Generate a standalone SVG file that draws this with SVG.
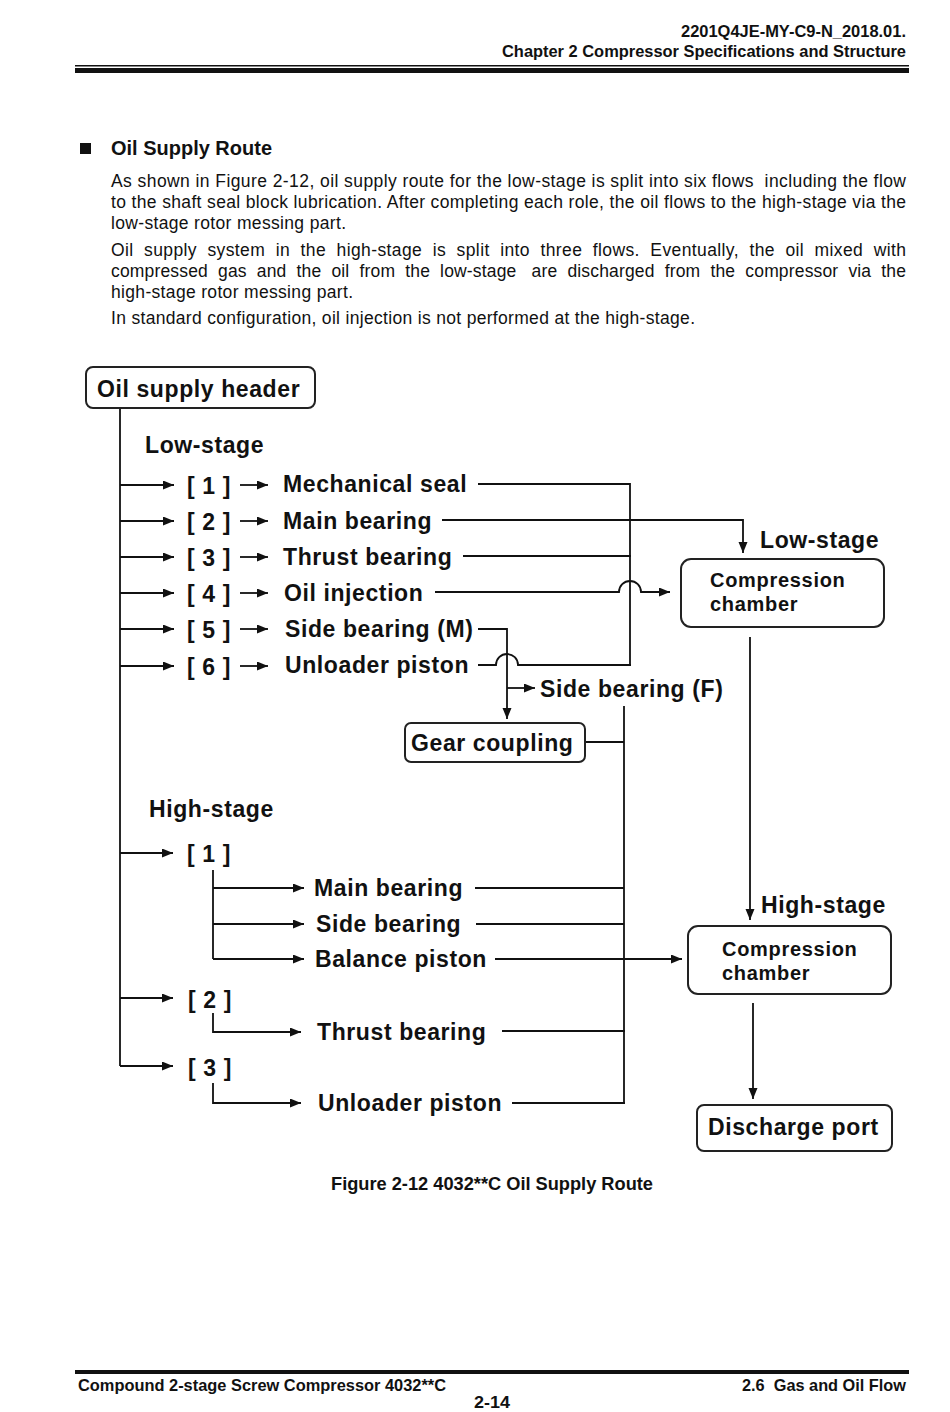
<svg xmlns="http://www.w3.org/2000/svg" width="950" height="1412" viewBox="0 0 950 1412">
<style>
.t{font-family:"Liberation Sans",Arial,sans-serif;fill:#111}
.hd{font-weight:bold;font-size:17px}
.p{font-size:17.5px}
.d{font-weight:bold;font-size:23px;letter-spacing:0.6px}
.c{font-weight:bold;font-size:20px;letter-spacing:0.7px}
.ln{fill:none;stroke:#111;stroke-width:1.8}
.ar{fill:none;stroke:#111;stroke-width:1.8;marker-end:url(#ah)}
.bx{fill:#fff;stroke:#222;stroke-width:2}
</style>
<defs>
<marker id="ah" markerUnits="userSpaceOnUse" markerWidth="12" markerHeight="10" refX="11" refY="4.5" orient="auto">
<path d="M0,0 L11,4.5 L0,9 z" fill="#111"/>
</marker>
</defs>
<rect width="950" height="1412" fill="#fff"/>

<g id="page-header">
<text class="t hd" x="906" y="37" text-anchor="end" textLength="225" lengthAdjust="spacingAndGlyphs">2201Q4JE-MY-C9-N_2018.01.</text>
<text class="t hd" x="906" y="57" text-anchor="end" textLength="404" lengthAdjust="spacingAndGlyphs">Chapter 2 Compressor Specifications and Structure</text>
<rect x="75" y="65" width="834" height="1.5" fill="#111"/>
<rect x="75" y="68" width="834" height="5" fill="#111"/>
</g>

<g id="intro">
<rect x="80" y="143" width="11" height="11" fill="#111"/>
<text class="t" x="111" y="155" font-weight="bold" font-size="19.5" textLength="161" lengthAdjust="spacingAndGlyphs">Oil Supply Route</text>
<text class="t p" x="111" y="187" textLength="795" xml:space="preserve">As shown in Figure 2-12, oil supply route for the low-stage is split into six flows  including the flow</text>
<text class="t p" x="111" y="208" textLength="795">to the shaft seal block lubrication. After completing each role, the oil flows to the high-stage via the</text>
<text class="t p" x="111" y="229" textLength="235">low-stage rotor messing part.</text>
<text class="t p" x="111" y="256" textLength="795" xml:space="preserve">Oil  supply  system  in  the  high-stage  is  split  into  three  flows.  Eventually,  the  oil  mixed  with</text>
<text class="t p" x="111" y="277" textLength="795" xml:space="preserve">compressed  gas  and  the  oil  from  the  low-stage   are  discharged  from  the  compressor  via  the</text>
<text class="t p" x="111" y="298" textLength="242">high-stage rotor messing part.</text>
<text class="t p" x="111" y="324" textLength="584">In standard configuration, oil injection is not performed at the high-stage.</text>
</g>

<g id="connectors">
<path class="ln" d="M120,408 V1066"/>
<path class="ar" d="M120,485 H174"/>
<path class="ar" d="M120,521 H174"/>
<path class="ar" d="M120,557 H174"/>
<path class="ar" d="M120,593 H174"/>
<path class="ar" d="M120,629 H174"/>
<path class="ar" d="M120,666 H174"/>
<path class="ar" d="M240,485 H268"/>
<path class="ar" d="M240,521 H268"/>
<path class="ar" d="M240,557 H268"/>
<path class="ar" d="M240,593 H268"/>
<path class="ar" d="M240,629 H268"/>
<path class="ar" d="M240,666 H268"/>
<path class="ln" d="M478,484 H630 V665"/>
<path class="ar" d="M442,520 H743 V553"/>
<path class="ln" d="M463,556 H631"/>
<path class="ar" d="M435,592 H619 A11,11 0 0 1 641,592 H670"/>
<path class="ar" d="M478,629 H507 V719"/>
<path class="ar" d="M507,688 H535"/>
<path class="ln" d="M478,665 H496 A11,11 0 0 1 518,665 H631"/>
<path class="ln" d="M585,742 H624"/>
<path class="ln" d="M624,706 V1103"/>
<path class="ar" d="M750,637 V920"/>
<path class="ar" d="M120,853 H173"/>
<path class="ar" d="M120,998 H173"/>
<path class="ar" d="M120,1066 H173"/>
<path class="ln" d="M213,870 V959"/>
<path class="ar" d="M213,888 H304"/>
<path class="ar" d="M213,924 H304"/>
<path class="ar" d="M213,959 H304"/>
<path class="ar" d="M213,1013 V1032 H301"/>
<path class="ar" d="M213,1083 V1103 H301"/>
<path class="ln" d="M475,888 H624"/>
<path class="ln" d="M476,924 H624"/>
<path class="ar" d="M495,959 H682"/>
<path class="ln" d="M502,1031 H625"/>
<path class="ln" d="M512,1103 H625"/>
<path class="ar" d="M753,1003 V1099"/>
</g>

<g id="oil-supply-header">
<rect class="bx" x="86" y="367" width="229" height="41" rx="7"/>
<text class="t d" x="97" y="397">Oil supply header</text>
</g>

<g id="low-stage-label"><text class="t d" x="145" y="453">Low-stage</text></g>

<g id="ls1"><text class="t d" x="187" y="494">[ 1 ]</text><text class="t d" x="283" y="492">Mechanical seal</text></g>
<g id="ls2"><text class="t d" x="187" y="530">[ 2 ]</text><text class="t d" x="283" y="529">Main bearing</text></g>
<g id="ls3"><text class="t d" x="187" y="566">[ 3 ]</text><text class="t d" x="283" y="565">Thrust bearing</text></g>
<g id="ls4"><text class="t d" x="187" y="602">[ 4 ]</text><text class="t d" x="284" y="601">Oil injection</text></g>
<g id="ls5"><text class="t d" x="187" y="638">[ 5 ]</text><text class="t d" x="285" y="637">Side bearing (M)</text></g>
<g id="ls6"><text class="t d" x="187" y="675">[ 6 ]</text><text class="t d" x="285" y="673">Unloader piston</text></g>

<g id="side-bearing-f"><text class="t d" x="540" y="697">Side bearing (F)</text></g>

<g id="gear-coupling">
<rect class="bx" x="405" y="723" width="180" height="39" rx="6"/>
<text class="t d" x="411" y="751">Gear coupling</text>
</g>

<g id="low-stage-chamber">
<text class="t d" x="760" y="548">Low-stage</text>
<rect class="bx" x="681" y="559" width="203" height="68" rx="10"/>
<text class="t c" x="710" y="587">Compression</text>
<text class="t c" x="710" y="611">chamber</text>
</g>

<g id="high-stage-label"><text class="t d" x="149" y="817">High-stage</text></g>

<g id="hs1"><text class="t d" x="187" y="862">[ 1 ]</text></g>
<g id="hs1a"><text class="t d" x="314" y="896">Main bearing</text></g>
<g id="hs1b"><text class="t d" x="316" y="932">Side bearing</text></g>
<g id="hs1c"><text class="t d" x="315" y="967">Balance piston</text></g>
<g id="hs2"><text class="t d" x="188" y="1008">[ 2 ]</text><text class="t d" x="317" y="1040">Thrust bearing</text></g>
<g id="hs3"><text class="t d" x="188" y="1076">[ 3 ]</text><text class="t d" x="318" y="1111">Unloader piston</text></g>

<g id="high-stage-chamber">
<text class="t d" x="761" y="913">High-stage</text>
<rect class="bx" x="688" y="926" width="203" height="68" rx="10"/>
<text class="t c" x="722" y="956">Compression</text>
<text class="t c" x="722" y="980">chamber</text>
</g>

<g id="discharge-port">
<rect class="bx" x="697" y="1105" width="195" height="46" rx="7"/>
<text class="t d" x="708" y="1135">Discharge port</text>
</g>

<g id="caption">
<text class="t" x="492" y="1190" text-anchor="middle" font-weight="bold" font-size="18" textLength="322" lengthAdjust="spacingAndGlyphs">Figure 2-12 4032**C Oil Supply Route</text>
</g>

<g id="page-footer">
<rect x="75" y="1370" width="834" height="4" fill="#111"/>
<text class="t hd" x="78" y="1391" textLength="368" lengthAdjust="spacingAndGlyphs">Compound 2-stage Screw Compressor 4032**C</text>
<text class="t hd" x="906" y="1391" text-anchor="end" textLength="164" lengthAdjust="spacingAndGlyphs" xml:space="preserve">2.6  Gas and Oil Flow</text>
<text class="t" x="492" y="1408" text-anchor="middle" font-weight="bold" font-size="16" textLength="36" lengthAdjust="spacingAndGlyphs">2-14</text>
</g>
</svg>
